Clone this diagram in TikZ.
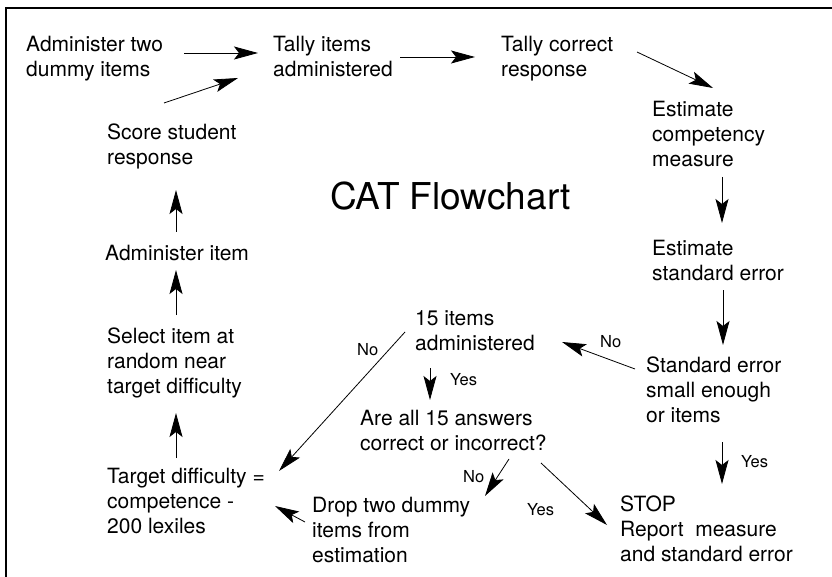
\documentclass[tikz,border=0pt]{standalone}
\usepackage{fontspec}
\setmainfont{TeX Gyre Heros}
\usetikzlibrary{arrows.meta,calc}

% every text block is placed by the baseline of its last line
\tikzset{
  lbl/.style={anchor=base west, inner sep=0pt, align=left,
              font=\fontsize{21}{25}\selectfont},
  tag/.style={anchor=base west, inner sep=0pt,
              font=\fontsize{16.5}{19}\selectfont},
  flow/.style={line width=0.8pt,
               -{Stealth[length=24pt,width=13pt,inset=5pt]}},
  frame/.style={line width=2.5pt}
}

\begin{document}
\begin{tikzpicture}[x=1pt,y=-1pt]
\useasboundingbox (0,0) rectangle (832,577);

% border along the top and left edges
\draw[frame] (6,577) -- (6,8) -- (832,8);

% steps of the loop
\node[lbl] (adm2)    at (26,77)   {Administer two\\dummy items};
\node[lbl] (tally1)  at (273,77)  {Tally items\\administered};
\node[lbl] (tally2)  at (501,77)  {Tally correct\\response};
\node[lbl] (estc)    at (652,167) {Estimate\\competency\\measure};
\node[lbl] (estse)   at (652,280) {Estimate\\standard error};
\node[lbl] (sesm)    at (646,422) {Standard error\\small enough\\or items};
\node[lbl] (items15) at (415,350) {15 items\\administered};
\node[lbl] (allq)    at (360,450) {Are all 15 answers\\correct or incorrect?};
\node[lbl] (stop)    at (620,561) {STOP\\Report\ \ measure\\and standard error};
\node[lbl] (drop)    at (312,562) {Drop two dummy\\items from\\estimation};
\node[lbl] (target)  at (107,533) {Target difficulty =\\competence -\\200 lexiles};
\node[lbl] (select)  at (107,393) {Select item at\\random near\\target difficulty};
\node[lbl] (admi)    at (105,261) {Administer item};
\node[lbl] (score)   at (107,165) {Score student\\response};

% title
\node[anchor=base west, inner sep=0pt, font=\fontsize{37}{40}\selectfont]
  (title) at (330,210) {CAT Flowchart};

% answer labels
\node[tag] (no1)  at (600,347) {No};
\node[tag] (yes1) at (450,385) {Yes};
\node[tag] (no2)  at (357,355) {No};
\node[tag] (no3)  at (463,482) {No};
\node[tag] (yes2) at (527,515) {Yes};
\node[tag] (yes3) at (741,467) {Yes};

% connectors
\draw[flow] ($(adm2.base west)+(158,-24)$)   -- ($(tally1.base west)+(-15,-24)$);
\draw[flow] ($(score.base west)+(57,-62)$)   -- ($(tally1.base west)+(-35,1)$);
\draw[flow] ($(tally1.base west)+(127,-20)$) -- ($(tally2.base west)+(-26,-20)$);
\draw[flow] ($(tally2.base west)+(136,-25)$) -- ($(estc.base west)+(61,-79)$);
\draw[flow] ($(estc.base west)+(70,10)$)     -- ($(estse.base west)+(70,-57)$);
\draw[flow] ($(estse.base west)+(71,10)$)    -- ($(sesm.base west)+(77,-77)$);
\draw[flow] ($(sesm.base west)+(-11,-53)$)   -- ($(items15.base west)+(147,-8)$);
\draw[flow] ($(items15.base west)+(15,18)$)  -- ($(allq.base west)+(70,-50)$);
\draw[flow] ($(items15.base west)+(-10,-18)$) -- ($(target.base west)+(172,-62)$);
\draw[flow] ($(allq.base west)+(149,9)$)     -- ($(drop.base west)+(173,-66)$);
\draw[flow] ($(allq.base west)+(181,13)$)    -- ($(stop.base west)+(-13,-36)$);
\draw[flow] ($(sesm.base west)+(76,20)$)     -- ($(stop.base west)+(102,-77)$);
\draw[flow] ($(drop.base west)+(-7,-40)$)    -- ($(target.base west)+(168,-27)$);
\draw[flow] ($(target.base west)+(69,-75)$)  -- ($(select.base west)+(69,20)$);
\draw[flow] ($(select.base west)+(69,-78)$)  -- ($(admi.base west)+(71,9)$);
\draw[flow] ($(admi.base west)+(71,-29)$)    -- ($(score.base west)+(69,25)$);
\end{tikzpicture}
\end{document}
